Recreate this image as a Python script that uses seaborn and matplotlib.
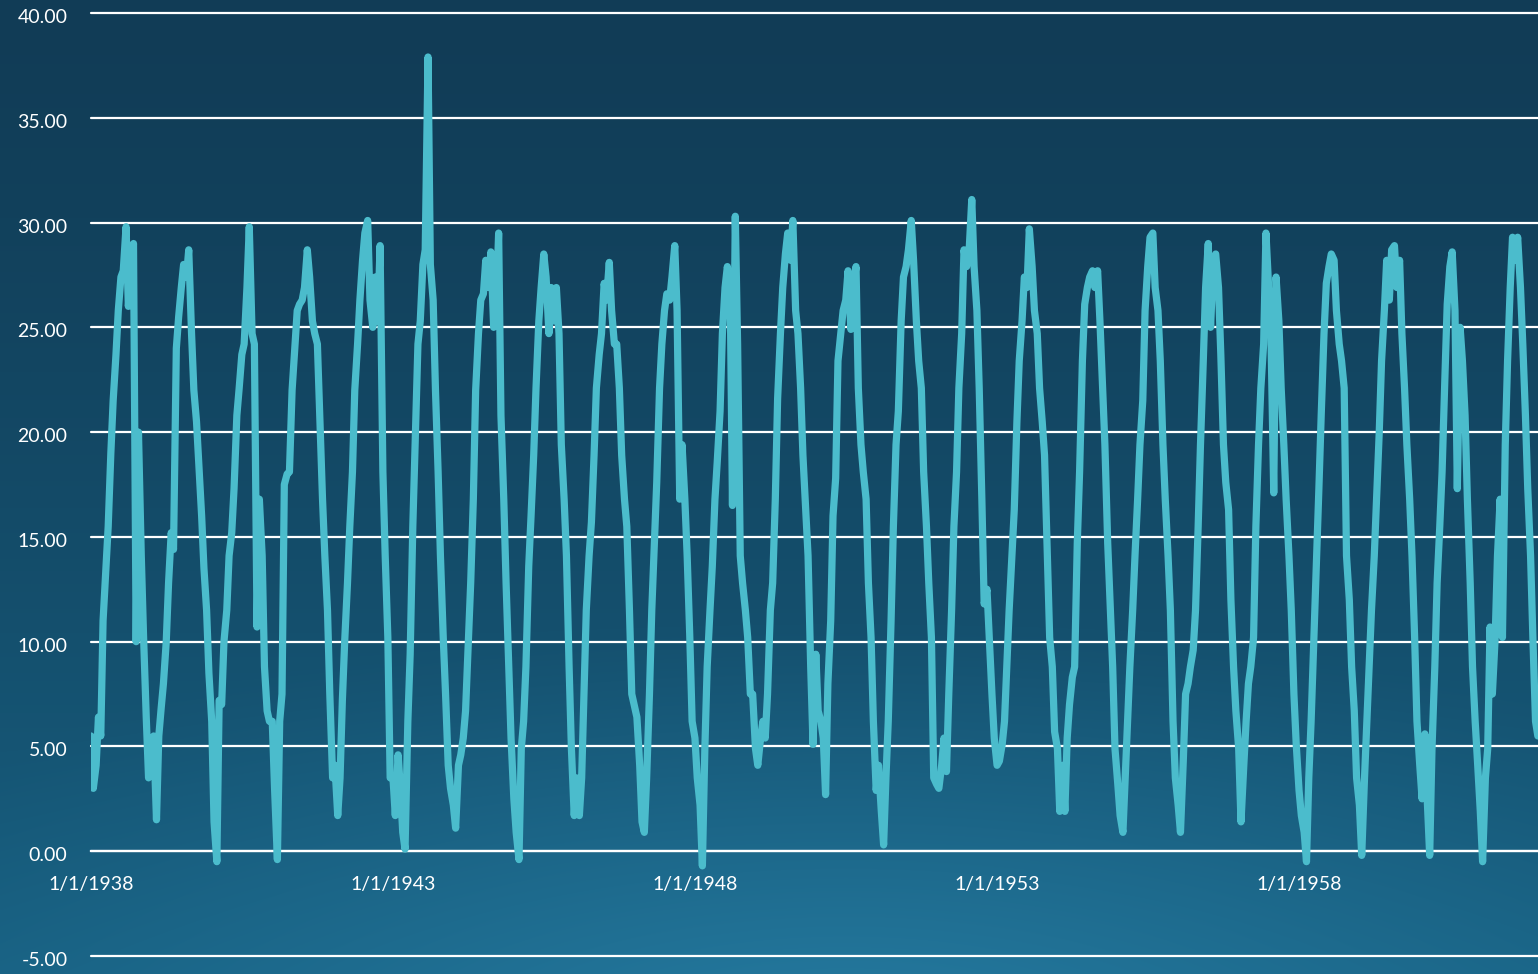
import numpy as np
import pandas as pd
import matplotlib
matplotlib.use("Agg")
import matplotlib.pyplot as plt
import matplotlib.transforms as mtransforms
import seaborn as sns

# semi-monthly readings (1st and 15th of each month), one list per year
years = list(range(1938, 1962))
y1938 = [5.5, 3.0, 4.1, 6.4, 5.5, 11.0, 13.5, 15.5, 19.0, 21.5, 23.7, 25.8,
         27.4, 27.7, 29.8, 26.0, 28.0, 29.0, 10.0, 20.0, 14.1, 10.2, 6.4, 3.5]
y1939 = [4.5, 5.5, 1.5, 5.5, 6.8, 8.0, 10.0, 12.8, 15.2, 14.4, 24.0, 25.5,
         26.9, 28.0, 27.4, 28.7, 24.7, 22.0, 20.5, 18.5, 16.0, 13.5, 11.5, 8.5]
y1940 = [6.2, 1.4, -0.5, 7.2, 7.0, 10.0, 11.5, 14.1, 15.2, 17.3, 20.8, 22.1,
         23.7, 24.2, 26.9, 29.8, 24.7, 24.2, 10.7, 16.8, 14.1, 8.8, 6.7, 6.2]
y1941 = [6.2, 3.0, -0.4, 6.2, 7.5, 17.5, 18.0, 18.1, 22.0, 23.7, 25.8, 26.1,
         26.3, 26.9, 28.7, 27.4, 25.3, 24.7, 24.2, 20.8, 16.8, 14.1, 11.5, 7.5]
y1942 = [3.5, 4.1, 1.7, 3.5, 7.2, 10.0, 12.8, 15.5, 18.1, 22.0, 24.2, 26.3,
         28.2, 29.5, 30.1, 26.3, 25.0, 27.4, 25.3, 28.9, 18.1, 14.1, 10.2, 3.5]
y1943 = [3.5, 1.7, 4.6, 3.0, 0.9, 0.1, 6.2, 9.4, 15.5, 19.4, 24.2, 25.3,
         28.0, 28.7, 37.9, 28.0, 26.3, 22.0, 18.1, 14.1, 10.2, 7.5, 4.1, 3.0]
y1944 = [2.2, 1.1, 4.1, 4.6, 5.4, 6.7, 10.0, 12.8, 16.8, 22.0, 24.7, 26.3,
         26.6, 28.2, 26.9, 28.6, 25.0, 25.8, 29.5, 20.8, 16.8, 12.8, 8.8, 5.4]
y1945 = [2.5, 0.9, -0.4, 4.9, 6.2, 8.8, 13.6, 16.0, 18.9, 22.1, 25.3, 26.9,
         28.5, 27.4, 24.7, 26.9, 25.3, 26.9, 24.7, 19.4, 16.8, 14.1, 8.8, 4.9]
y1946 = [1.7, 3.5, 1.7, 3.5, 7.5, 11.5, 14.1, 15.7, 18.9, 22.1, 23.7, 24.7,
         27.1, 26.3, 28.1, 25.8, 24.2, 24.2, 22.1, 18.9, 16.8, 15.5, 11.5, 7.5]
y1947 = [6.9, 6.4, 4.1, 1.4, 0.9, 3.5, 7.5, 11.5, 14.7, 17.6, 22.1, 24.2,
         25.8, 26.6, 26.3, 27.4, 28.9, 25.8, 16.8, 19.4, 16.8, 14.1, 10.2, 6.2]
y1948 = [5.4, 3.5, 2.2, -0.7, 4.9, 8.8, 11.5, 13.6, 16.8, 18.6, 21.0, 24.7,
         26.9, 27.9, 26.9, 16.5, 30.3, 24.2, 14.1, 12.8, 11.5, 10.2, 7.5, 7.5]
y1949 = [4.9, 4.1, 5.4, 6.2, 5.4, 7.5, 11.5, 12.8, 16.8, 21.6, 24.7, 26.9,
         28.5, 29.5, 28.2, 30.1, 25.8, 24.7, 22.1, 18.9, 16.3, 14.1, 8.8, 5.1]
y1950 = [9.4, 6.7, 6.2, 5.4, 2.7, 8.0, 11.0, 16.0, 17.8, 23.4, 24.7, 25.8,
         26.3, 27.7, 24.9, 26.9, 27.9, 22.1, 19.4, 18.1, 16.8, 12.8, 10.2, 6.2]
y1951 = [2.9, 4.1, 1.9, 0.3, 3.5, 6.2, 11.0, 15.5, 19.4, 21.0, 25.3, 27.4,
         27.9, 28.7, 30.1, 28.2, 25.3, 23.4, 22.1, 18.1, 15.5, 12.8, 10.2, 3.5]
y1952 = [3.2, 3.0, 4.1, 5.4, 3.8, 7.5, 11.5, 15.5, 18.1, 22.1, 24.7, 28.7,
         27.9, 28.5, 31.1, 27.9, 25.8, 22.1, 16.8, 11.8, 12.5, 10.2, 7.5, 5.4]
y1953 = [4.1, 4.3, 5.1, 6.2, 8.8, 11.5, 14.1, 16.3, 20.5, 23.4, 25.3, 27.4,
         26.9, 29.7, 27.9, 25.8, 24.7, 22.1, 20.5, 18.9, 14.1, 10.2, 8.8, 5.7]
y1954 = [4.9, 1.9, 4.1, 1.9, 5.4, 7.0, 8.3, 8.8, 14.7, 18.1, 23.4, 26.1,
         26.9, 27.4, 27.7, 26.9, 27.7, 25.3, 22.1, 19.4, 14.7, 12.0, 8.8, 4.9]
y1955 = [3.2, 1.7, 0.9, 3.5, 6.2, 8.8, 11.5, 14.1, 16.8, 19.4, 21.5, 25.8,
         27.9, 29.3, 29.5, 26.9, 25.8, 23.4, 19.4, 16.8, 14.1, 11.5, 6.2, 3.5]
y1956 = [2.2, 0.9, 4.3, 7.5, 8.0, 8.8, 9.6, 11.5, 15.5, 19.4, 23.4, 26.9,
         29.0, 25.0, 28.2, 28.5, 26.9, 23.7, 19.4, 17.6, 16.3, 12.0, 8.8, 6.7]
y1957 = [4.9, 1.4, 4.1, 6.2, 8.0, 8.8, 10.2, 15.5, 19.4, 22.1, 24.2, 29.5,
         26.9, 24.7, 17.1, 27.4, 25.3, 22.1, 19.4, 16.8, 14.1, 11.5, 7.5, 5.1]
y1958 = [2.9, 1.7, 0.9, -0.5, 3.5, 6.2, 10.2, 13.6, 17.3, 20.8, 24.7, 27.1,
         27.9, 28.5, 28.2, 25.8, 24.2, 23.4, 22.1, 14.1, 12.0, 8.8, 6.7, 3.5]
y1959 = [2.2, -0.2, 3.5, 6.2, 8.8, 11.5, 14.1, 16.8, 20.0, 23.4, 25.8, 28.2,
         26.3, 28.7, 28.9, 26.9, 28.2, 24.7, 22.1, 19.4, 16.8, 14.1, 10.2, 6.2]
y1960 = [4.1, 2.5, 5.6, 2.5, -0.2, 4.9, 8.8, 12.8, 15.5, 18.1, 22.6, 26.1,
         27.9, 28.6, 25.8, 17.3, 25.0, 23.4, 20.8, 16.8, 12.8, 8.8, 6.2, 4.3]
y1961 = [1.9, -0.5, 3.5, 4.9, 10.7, 7.5, 10.2, 14.1, 16.8, 10.2, 19.4, 23.4,
         26.9, 29.3, 28.2, 29.3, 26.9, 24.2, 20.8, 17.3, 14.1, 10.2, 6.2, 5.5]

yearly_values = [y1938, y1939, y1940, y1941, y1942, y1943, y1944, y1945,
                 y1946, y1947, y1948, y1949, y1950, y1951, y1952, y1953,
                 y1954, y1955, y1956, y1957, y1958, y1959, y1960, y1961]

y_ticks = [-5, 0, 5, 10, 15, 20, 25, 30, 35, 40]
x_tick_dates = ["1938-01-01", "1943-01-01", "1948-01-01", "1953-01-01", "1958-01-01"]
x_tick_labels = ["1/1/1938", "1/1/1943", "1/1/1948", "1/1/1953", "1/1/1958"]

frames = []
for year, vals in zip(years, yearly_values):
    d = pd.date_range(f"{year}-01-01", periods=len(vals), freq="SMS")
    frames.append(pd.DataFrame({"date": d, "value": vals}))
df = pd.concat(frames, ignore_index=True)

sns.set_theme(style="white")
plt.rcParams['font.family'] = ['Lato', 'DejaVu Sans']

W, H = 1538, 974
fig = plt.figure(figsize=(W / 100, H / 100), dpi=100)

# dark blue gradient background with a lighter glow at the bottom
bg = fig.add_axes([0, 0, 1, 1], zorder=0)
yy, xx = np.mgrid[0:1:H * 1j, 0:1:W * 1j]
top = np.array([0x11, 0x3c, 0x56]) / 255
bot = np.array([0x17, 0x5f, 0x80]) / 255
glow = np.array([0x26, 0x7c, 0xa2]) / 255
t = (yy ** 1.3)[..., None]
img = top * (1 - t) + bot * t
r = np.sqrt(((xx - 0.55) / 0.75) ** 2 + ((yy - 1.08) / 0.45) ** 2)
g = (np.clip(1 - r, 0, 1) ** 1.3)[..., None]
img = img * (1 - g) + glow * g
bg.imshow(img, aspect='auto', extent=[0, 1, 0, 1])
bg.axis('off')

ax = fig.add_axes([91 / W, 1 - 956 / H, 1 - 91 / W, (956 - 13) / H], zorder=1)
ax.set_facecolor('none')

sns.lineplot(data=df, x="date", y="value", ax=ax, color="#4bbccc", linewidth=5.2,
             estimator=None, zorder=3)

ax.set_ylim(-5, 40)
ax.set_xlim(pd.Timestamp("1938-01-01"), pd.Timestamp("1961-12-16"))

ax.set_yticks(y_ticks)
ax.set_yticklabels([f"{v:.2f}" for v in y_ticks])
ax.set_xticks(pd.to_datetime(x_tick_dates))
ax.set_xticklabels(x_tick_labels)

ax.grid(axis='y', color='white', linewidth=1.6)
ax.grid(axis='x', visible=False)
for gl in ax.get_ygridlines():
    gl.set_clip_on(False)
ax.set_axisbelow(True)

for side in ['top', 'right', 'left']:
    ax.spines[side].set_visible(False)
ax.spines['bottom'].set_position(('data', 0))
ax.spines['bottom'].set_color('white')
ax.spines['bottom'].set_linewidth(1.6)

ax.tick_params(axis='y', length=0, pad=17, labelcolor='white', labelsize=14)
ax.tick_params(axis='x', length=7, width=1.5, color='white', direction='out', pad=11,
               labelcolor='white', labelsize=14)

# y labels sit a touch below their gridlines
shift = mtransforms.ScaledTranslation(0, -3 / 100, fig.dpi_scale_trans)
for lbl in ax.get_yticklabels():
    lbl.set_transform(lbl.get_transform() + shift)

ax.set_xlabel("")
ax.set_ylabel("")

fig.savefig("out.png", dpi=100)
